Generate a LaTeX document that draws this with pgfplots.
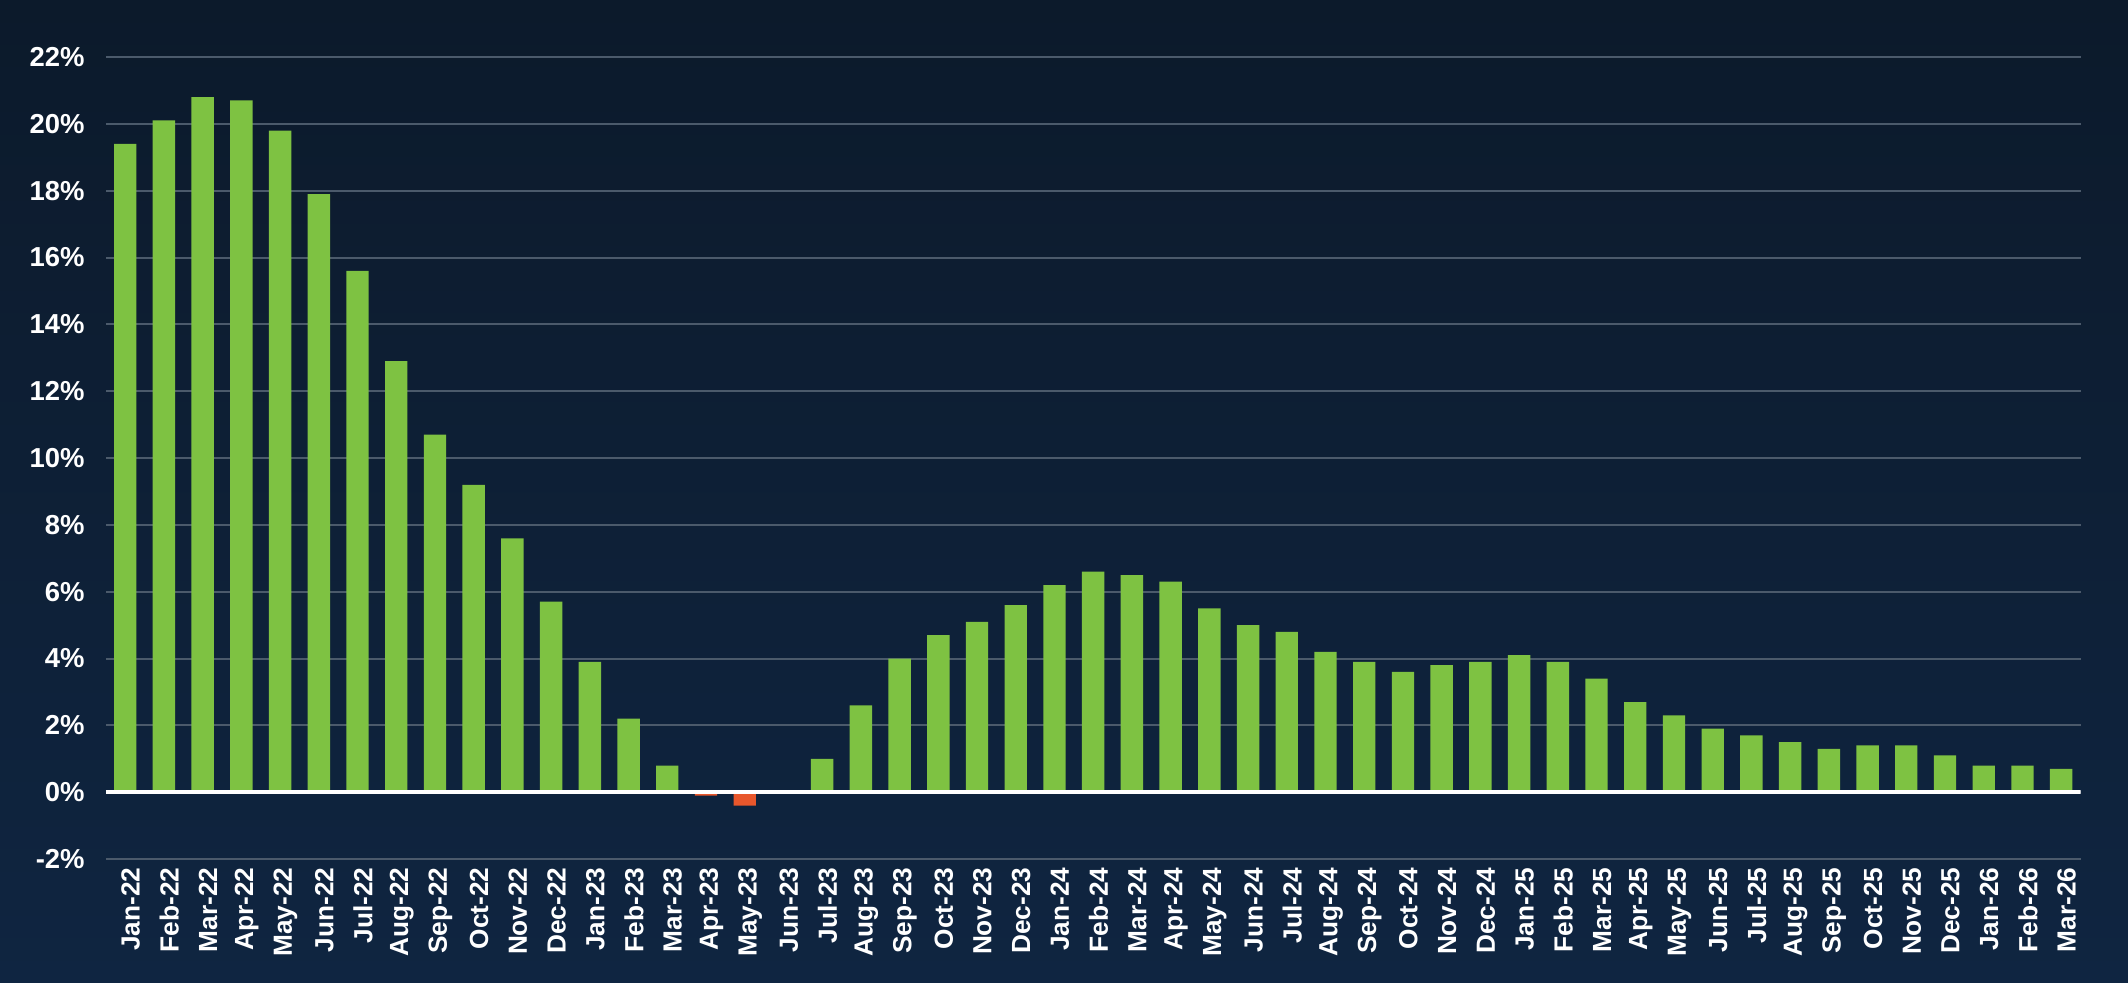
\documentclass[border=0pt]{standalone}
\usepackage{fontspec}
\setmainfont{Liberation Sans}
\usepackage{pgfplots}
\usepackage{pgfplotstable}
\pgfplotsset{compat=1.18}
\definecolor{bgtop}{HTML}{0C1A2B}
\definecolor{bgbot}{HTML}{0F2541}
\definecolor{barg}{HTML}{7EC242}
\definecolor{barr}{HTML}{E8572C}
\definecolor{gridc}{HTML}{4B5A6B}

\pgfplotstableread{
x y
0 19.4
1 20.1
2 20.8
3 20.7
4 19.8
5 17.9
6 15.6
7 12.9
8 10.7
9 9.2
10 7.6
11 5.7
12 3.9
13 2.2
14 0.8
17 0.0
18 1.0
19 2.6
20 4.0
21 4.7
22 5.1
23 5.6
24 6.2
25 6.6
26 6.5
27 6.3
28 5.5
29 5.0
30 4.8
31 4.2
32 3.9
33 3.6
34 3.8
35 3.9
36 4.1
37 3.9
38 3.4
39 2.7
40 2.3
41 1.9
42 1.7
43 1.5
44 1.3
45 1.4
46 1.4
47 1.1
48 0.8
49 0.8
50 0.7
}\pos

\pgfplotstableread{
x y
15 -0.1
16 -0.4
}\negv

\begin{document}
\begin{tikzpicture}
\shade[top color=bgtop, bottom color=bgbot] (0,0) rectangle (313.6mm,144.8mm);
\path[use as bounding box] (0,0) rectangle (313.6mm,144.8mm);
\begin{axis}[
  at={(15.6mm,18.2mm)}, anchor=south west,
  scale only axis, width=291mm, height=118.2mm,
  xmin=-0.5, xmax=50.5, ymin=-2, ymax=22,
  axis line style={draw=none},
  major tick length=0pt,
  ytick={-2,0,...,22},
  yticklabels={-2\%,0\%,2\%,4\%,6\%,8\%,10\%,12\%,14\%,16\%,18\%,20\%,22\%},
  xtick={0,...,50},
  xticklabels={Jan-22,Feb-22,Mar-22,Apr-22,May-22,Jun-22,Jul-22,Aug-22,Sep-22,Oct-22,Nov-22,Dec-22,
    Jan-23,Feb-23,Mar-23,Apr-23,May-23,Jun-23,Jul-23,Aug-23,Sep-23,Oct-23,Nov-23,Dec-23,
    Jan-24,Feb-24,Mar-24,Apr-24,May-24,Jun-24,Jul-24,Aug-24,Sep-24,Oct-24,Nov-24,Dec-24,
    Jan-25,Feb-25,Mar-25,Apr-25,May-25,Jun-25,Jul-25,Aug-25,Sep-25,Oct-25,Nov-25,Dec-25,
    Jan-26,Feb-26,Mar-26},
  ymajorgrids,
  grid style={gridc, line width=0.85pt},
  yticklabel style={font=\bfseries\fontsize{11.5}{12}\selectfont, text=white, xshift=-1.9mm},
  xticklabel style={font=\bfseries\fontsize{11}{12}\selectfont, text=white, rotate=90, anchor=east, yshift=-0.8mm},
]
\addplot[ybar, bar width=3.3mm, bar shift=0pt, fill=barg, draw=none] table {\pos};
\addplot[ybar, bar width=3.3mm, bar shift=0pt, fill=barr, draw=none] table {\negv};
\draw[white, line width=1.6pt] (axis cs:-0.5,0) -- (axis cs:50.5,0);
\end{axis}
\end{tikzpicture}
\end{document}
